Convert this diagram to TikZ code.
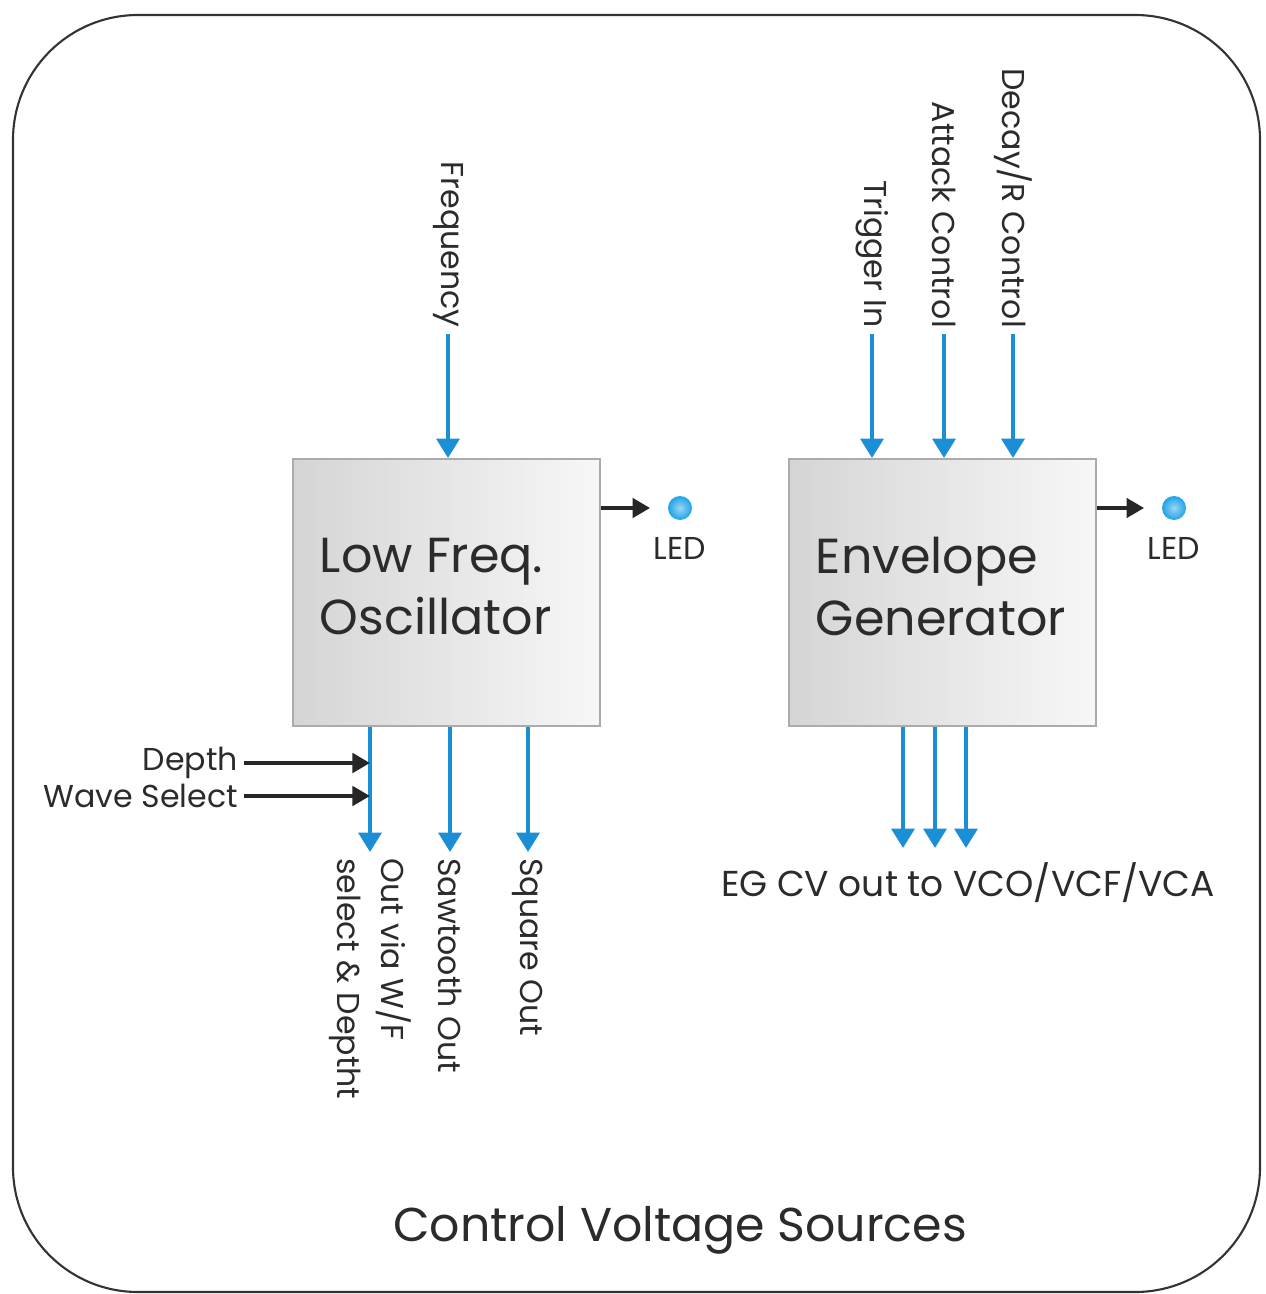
\documentclass[tikz,border=0pt]{standalone}
\usepackage{fontspec}
\setmainfont{Poppins}
\usetikzlibrary{arrows.meta,positioning}
\definecolor{cvblue}{HTML}{1B8FD6}
\definecolor{framegray}{HTML}{333333}
\definecolor{boxedge}{HTML}{ABABAB}
\definecolor{boxdark}{HTML}{D5D5D5}
\definecolor{boxlight}{HTML}{F7F7F7}
\definecolor{textgray}{HTML}{2B2B2B}
\definecolor{ledblue}{HTML}{1FA3E8}

\begin{document}
\begin{tikzpicture}[x=0.02cm, y=-0.02cm,
    module/.style={draw=boxedge, line width=1pt, left color=boxdark, right color=boxlight,
      minimum width=6.15cm, minimum height=5.35cm, anchor=north west},
    modname/.style={font=\fontsize{28}{35}\selectfont, align=left, anchor=west,
      text=textgray, inner sep=0pt},
    cvarrow/.style={cvblue, line width=2.2pt, -{Triangle[length=11pt,width=13pt]}},
    ctlarrow/.style={black!85, line width=2.2pt, -{Triangle[length=10pt,width=11pt]}},
    sidelabel/.style={rotate=-90, font=\fontsize{18}{25}\selectfont, text=textgray},
    plainlabel/.style={font=\fontsize{18}{22}\selectfont, text=textgray},
    led/.style={circle, minimum size=0.48cm, inner sep=0pt,
      inner color=ledblue!45!white, outer color=ledblue}]
  \useasboundingbox (0,0) rectangle (1265,1294);

  % outer frame
  \draw[framegray, line width=1.2pt, rounded corners=2.5cm] (13,15) rectangle (1260,1292);

  % the two modules
  \node[module] (lfo) at (292,458) {};
  \node[module] (eg) at (788,458) {};
  \node[modname] (lfoname) at ([xshift=0.55cm, yshift=0.12cm]lfo.west) {Low Freq.\\Oscillator};
  \node[modname] (egname) at ([xshift=0.55cm, yshift=0.12cm]eg.west) {Envelope\\Generator};

  % leds
  \node[led] (lfoled) at (680,508) {};
  \node[led] (egled) at (1174,508) {};
  \node[plainlabel, below=0.22cm of lfoled] (lfoledtxt) {LED};
  \node[plainlabel, below=0.22cm of egled] (egledtxt) {LED};
  \draw[ctlarrow, shorten >=10pt] (lfo.east |- lfoled) -- (lfoled.west);
  \draw[ctlarrow, shorten >=10pt] (eg.east |- egled) -- (egled.west);

  % control inputs (top)
  \node[sidelabel, anchor=east] (freqlbl) at (448,334) {Frequency};
  \node[sidelabel, anchor=east] (triglbl) at (872,334) {Trigger In};
  \node[sidelabel, anchor=east] (attlbl) at (944,334) {Attack Control};
  \node[sidelabel, anchor=east] (declbl) at (1013,334) {Decay/R Control};
  \draw[cvarrow] (freqlbl.east) -- (freqlbl.east |- lfo.north);
  \draw[cvarrow] (triglbl.east) -- (triglbl.east |- eg.north);
  \draw[cvarrow] (attlbl.east) -- (attlbl.east |- eg.north);
  \draw[cvarrow] (declbl.east) -- (declbl.east |- eg.north);

  % lfo outputs
  \node[sidelabel, anchor=west, align=left] (wflbl) at (370,852) {Out via W/F\\select \& Deptht};
  \node[sidelabel, anchor=west] (sawlbl) at (450,852) {Sawtooth Out};
  \node[sidelabel, anchor=west] (sqlbl) at (528,852) {Square Out};
  \draw[cvarrow] (wflbl.west |- lfo.south) -- (wflbl.west);
  \draw[cvarrow] (sawlbl.west |- lfo.south) -- (sawlbl.west);
  \draw[cvarrow] (sqlbl.west |- lfo.south) -- (sqlbl.west);

  % depth / wave select into the lfo output
  \node[plainlabel, anchor=east] (depth) at (244,763) {Depth};
  \node[plainlabel, anchor=east] (wavesel) at (244,796) {Wave Select};
  \draw[ctlarrow] (depth.east) -- (depth.east -| wflbl.west);
  \draw[ctlarrow] (wavesel.east) -- (wavesel.east -| wflbl.west);

  % eg outputs
  \node[plainlabel, font=\fontsize{20.5}{24}\selectfont] (egcv) at (968,883) {EG CV out to VCO/VCF/VCA};
  \coordinate (cvout1) at (903,848);
  \coordinate (cvout2) at (935,848);
  \coordinate (cvout3) at (966,848);
  \draw[cvarrow] (cvout1 |- eg.south) -- (cvout1);
  \draw[cvarrow] (cvout2 |- eg.south) -- (cvout2);
  \draw[cvarrow] (cvout3 |- eg.south) -- (cvout3);

  % caption
  \node[font=\fontsize{27}{32}\selectfont, text=textgray] (caption) at (680,1230) {Control Voltage Sources};
\end{tikzpicture}
\end{document}
